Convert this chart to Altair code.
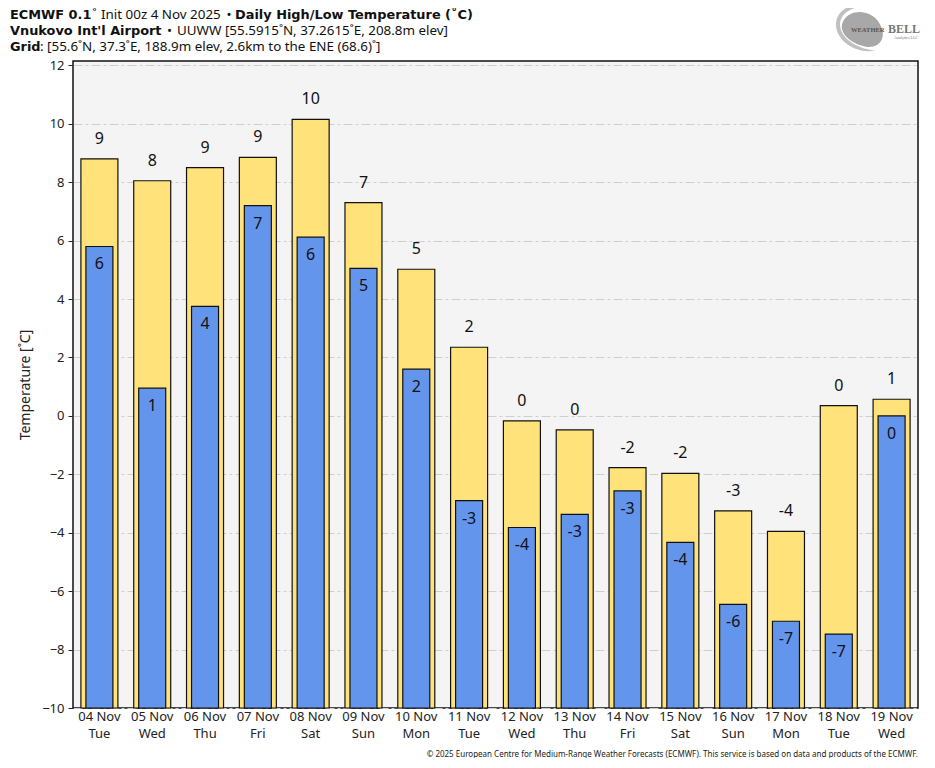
import altair as alt
import pandas as pd

days = ["04 Nov|Tue","05 Nov|Wed","06 Nov|Thu","07 Nov|Fri","08 Nov|Sat","09 Nov|Sun","10 Nov|Mon","11 Nov|Tue",
        "12 Nov|Wed","13 Nov|Thu","14 Nov|Fri","15 Nov|Sat","16 Nov|Sun","17 Nov|Mon","18 Nov|Tue","19 Nov|Wed"]
high = [8.8,8.05,8.5,8.85,10.15,7.3,5.02,2.35,-0.17,-0.48,-1.77,-1.97,-3.25,-3.95,0.35,0.57]
low = [5.8,0.95,3.75,7.2,6.12,5.05,1.6,-2.9,-3.82,-3.37,-2.57,-4.33,-6.45,-7.03,-7.47,0.0]
high_labels = ["9","8","9","9","10","7","5","2","0","0","-2","-2","-3","-4","0","1"]
low_labels = ["6","1","4","7","6","5","2","-3","-4","-3","-3","-4","-6","-7","-7","0"]
y_ticks = list(range(-10, 13, 2))
YMIN, YMAX = -10, 12.15
FONT = "Noto Sans"
BOLD = "DejaVu Sans"

df = pd.DataFrame({"day": days, "high": high, "low": low, "hl": high_labels, "ll": low_labels, "base": [YMIN]*16})

x = alt.X("day:N", sort=days, title=None,
          scale=alt.Scale(paddingInner=0, paddingOuter=0, align=0.5),
          axis=alt.Axis(labelExpr="split(datum.label, '|')", labelAngle=0, ticks=False, domain=False, grid=False,
                        labelFont=FONT, labelFontSize=13, labelColor="#222", labelPadding=2, labelLineHeight=17,
                        labelAlign="center", labelBaseline="top"))
yscale = alt.Scale(domain=[YMIN, YMAX], nice=False, zero=False)
yaxis = alt.Axis(values=y_ticks, title="Temperature [˚C]", titleFont=FONT, titleFontSize=14, titleFontWeight="normal",
                 titleColor="#222", titlePadding=9, labelFont=FONT, labelFontSize=13, labelColor="#222", labelPadding=4,
                 tickColor="#222", tickSize=5, tickWidth=1, domain=False,
                 grid=True, gridColor="#cfcfcf", gridDash=[9, 3, 3, 3], gridWidth=1.2, format="d")

hb = alt.Chart(df).mark_bar(size=37, color="#ffe27a", stroke="#111", strokeWidth=1.2).encode(
    x=x, y=alt.Y("base:Q", scale=yscale, axis=yaxis), y2="high:Q")
lb = alt.Chart(df).mark_bar(size=27, color="#6495ed", stroke="#111", strokeWidth=1.2).encode(
    x=x, y=alt.Y("base:Q", scale=yscale), y2="low:Q")
ht = alt.Chart(df).mark_text(font=FONT, fontSize=16, color="#111", dy=-20, baseline="middle").encode(
    x=x, y=alt.Y("high:Q", scale=yscale), text="hl:N")
lt = alt.Chart(df).mark_text(font=FONT, fontSize=16, color="#111", dy=18, baseline="middle").encode(
    x=x, y=alt.Y("low:Q", scale=yscale), text="ll:N")

def note(txt, px, py, bold=False, size=13.4, color="#111", align="left", font=None, **kw):
    f = font or (BOLD if bold else FONT)
    s = 12.9 if bold and size == 13.4 else size
    return alt.Chart(pd.DataFrame({"t": [txt]})).mark_text(
        font=f, fontSize=s, fontWeight="bold" if bold else "normal", color=color,
        align=align, baseline="middle", clip=False, **kw).encode(
        x=alt.value(px), y=alt.value(py), text="t:N")

# positions relative to plot origin (73, 61)
titles = [
    note("ECMWF 0.1", -63, -46, True),
    note("˚", 19.5, -46),
    note("Init 00z 4 Nov 2025", 28, -46),
    note("•", 153.5, -46),
    note("Daily High/Low Temperature (˚C)", 162, -46, True),
    note("Vnukovo Int'l Airport", -63, -30, True),
    note("•", 94, -30),
    note("UUWW [55.5915˚N, 37.2615˚E, 208.8m elev]", 104, -30),
    note("Grid", -63, -14, True),
    note(": [55.6˚N, 37.3˚E, 188.9m elev, 2.6km to the ENE (68.6)˚]", -33, -14),
    note("© 2025 European Centre for Medium-Range Weather Forecasts (ECMWF). This service is based on data and products of the ECMWF.",
         845, 694, size=8, align="right", color="#222"),
]

swirl_outer = alt.Chart(pd.DataFrame({"a": [0]})).mark_point(
    shape="M-0.95,-0.2 C-0.95,-0.8 -0.2,-1.1 0.35,-0.85 C-0.2,-0.95 -0.85,-0.65 -0.8,-0.15 C-0.75,0.35 -0.1,0.7 0.5,0.75 C-0.2,0.9 -0.95,0.4 -0.95,-0.2 Z",
    filled=True, color="#c0c0c0", stroke=None, size=3000, clip=False, opacity=1).encode(x=alt.value(789), y=alt.value(-31))
swirl_inner = alt.Chart(pd.DataFrame({"a": [0]})).mark_point(
    shape="M-0.7,-0.3 C-0.45,-0.8 0.3,-0.75 0.6,-0.3 C0.95,0.2 0.7,0.65 0.2,0.62 C-0.3,0.55 -0.9,0.15 -0.7,-0.3 Z",
    filled=True, color="#a8a8a8", stroke=None, size=3000, clip=False, opacity=1).encode(x=alt.value(789), y=alt.value(-31))
logo = [
    swirl_outer, swirl_inner,
    note("WEATHER", 778, -31, True, size=6.5, color="#555", font="Liberation Serif"),
    note("BELL", 815, -32, True, size=12, color="#777", font="Liberation Serif"),
    note("Analytics LLC", 845, -23, size=4, color="#777", align="right", font="Liberation Serif"),
]

chart = alt.layer(hb, lb, ht, lt, *titles, *logo).properties(
    width=845, height=647, autosize=alt.AutoSizeParams(type="none"),
    padding={"left": 65, "top": 53, "right": 9, "bottom": 50},
    background="white"
).configure_view(fill="#f4f4f4", stroke="#111", strokeWidth=1.5).configure_axis(labelOverlap=False)

chart.save("out.html", embed_options={"renderer": "svg", "actions": False})
